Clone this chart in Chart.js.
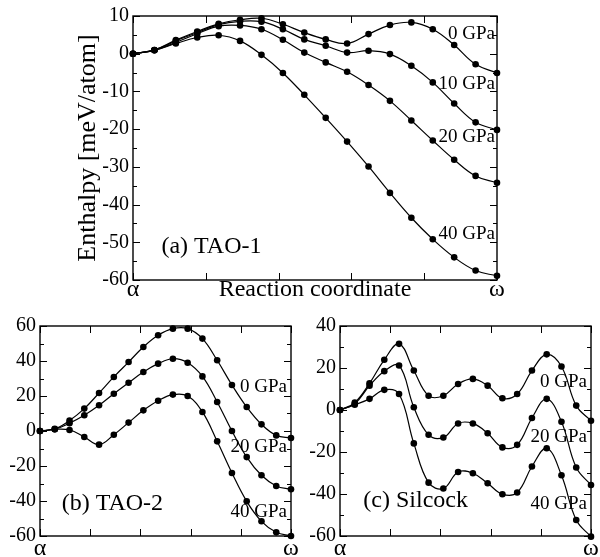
<!DOCTYPE html>
<html>
<head>
<meta charset="utf-8">
<script src="https://cdn.jsdelivr.net/npm/chart.js@4.4.1/dist/chart.umd.min.js"></script>
<style>
  html, body { margin: 0; padding: 0; background: #ffffff; }
  #page { position: relative; width: 600px; height: 557px; overflow: hidden; }
  canvas { position: absolute; }
</style>
</head>
<body>
<div id="page">
  <canvas id="tao1Chart" width="600" height="310" style="left:0;top:0"></canvas>
  <canvas id="tao2Chart" width="300" height="247" style="left:0;top:310px"></canvas>
  <canvas id="silcockChart" width="300" height="247" style="left:300px;top:310px"></canvas>
</div>
<script>
// Enthalpy along the reaction path (alpha -> omega) for three transition paths.
// Values, meV/atom.

const reactionSteps = [0, 1, 2, 3, 4, 5, 6, 7, 8, 9, 10, 11, 12, 13, 14, 15, 16, 17];

const tao1Pressures = ['0 GPa', '10 GPa', '20 GPa', '40 GPa'];
const tao1_0GPa = [0, 1.0, 3.6, 5.9, 7.9, 9.0, 9.4, 7.8, 5.6, 3.8, 2.7, 5.2, 7.6, 8.3, 6.5, 2.3, -2.8, -5.1];
const tao1_10GPa = [0, 1.0, 3.4, 5.6, 7.7, 8.6, 8.5, 6.5, 3.8, 2.1, 0.3, 0.8, -0.1, -3.2, -7.6, -13.2, -18.2, -20.2];
const tao1_20GPa = [0, 0.9, 3.0, 5.3, 7.3, 7.5, 6.5, 3.7, 0.3, -2.3, -4.8, -8.3, -12.5, -17.7, -23.0, -28.1, -32.4, -34.2];
const tao1_40GPa = [0, 0.9, 2.7, 4.3, 4.9, 3.4, -0.3, -5.1, -10.9, -17.0, -23.3, -29.9, -36.9, -43.5, -49.2, -54.0, -57.5, -58.9];

const pathPressures = ['0 GPa', '20 GPa', '40 GPa'];
const tao2_0GPa = [0, 1.2, 6.0, 12.8, 21.7, 30.9, 39.4, 48.0, 54.7, 58.5, 58.5, 52.8, 40.4, 26.3, 13.7, 3.8, -2.5, -4.0];
const tao2_20GPa = [0, 1.0, 4.5, 9.0, 14.7, 21.3, 27.6, 33.7, 38.5, 41.3, 39.0, 31.2, 16.6, 0.0, -14.9, -25.3, -31.4, -33.3];
const tao2_40GPa = [0, 1.0, 0.6, -3.4, -7.8, -2.1, 4.8, 11.8, 17.3, 20.8, 20.0, 10.9, -5.9, -24.0, -40.2, -51.6, -57.9, -60.0];

const silcock_0GPa = [0, 3.5, 12.7, 23.9, 31.5, 18.8, 6.8, 6.8, 12.4, 14.8, 11.6, 5.6, 7.6, 18.8, 26.5, 20.7, 2.1, -5.1];
const silcock_20GPa = [0, 3.0, 11.6, 18.5, 21.2, 1.3, -11.8, -13.1, -6.4, -6.4, -11.1, -17.8, -16.6, -3.8, 5.3, -5.6, -27.4, -35.7];
const silcock_40GPa = [0, 2.5, 5.3, 9.6, 7.6, -15.9, -34.6, -37.4, -29.5, -30.1, -34.9, -40.1, -39.3, -26.9, -18.2, -31.1, -52.4, -60.3];

const endLabels = { 0: 'α', 8.5: 'Reaction coordinate', 17: 'ω' };

const SERIF = '"Liberation Serif", "Times New Roman", serif';

// Draws the closed frame with inward tick marks, plus the text annotations.
const framePlugin = {
    id: 'frame',
    beforeDatasetsDraw(chart, args, opts) {
        const { ctx, chartArea: a, scales: { x, y } } = chart;
        ctx.save();
        ctx.strokeStyle = '#000';
        ctx.lineWidth = 1.4;
        ctx.strokeRect(a.left, a.top, a.right - a.left, a.bottom - a.top);
        ctx.lineWidth = 1;
        ctx.beginPath();
        for (let i = 0; i <= opts.xDivisions; i++) {
            const px = Math.round(x.getPixelForValue(x.min + (x.max - x.min) * i / opts.xDivisions)) + 0.5;
            ctx.moveTo(px, a.bottom);
            ctx.lineTo(px, a.bottom - opts.majorLen);
            ctx.moveTo(px, a.top);
            ctx.lineTo(px, a.top + opts.majorLen);
        }
        for (let v = y.min; v <= y.max + 1e-9; v += opts.yMinor) {
            const len = Math.abs(v % opts.yMajor) < 1e-9 ? opts.majorLen : opts.minorLen;
            const py = Math.round(y.getPixelForValue(v)) + 0.5;
            ctx.moveTo(a.left, py);
            ctx.lineTo(a.left + len, py);
            ctx.moveTo(a.right, py);
            ctx.lineTo(a.right - len, py);
        }
        ctx.stroke();
        ctx.restore();
    },
    afterDatasetsDraw(chart, args, opts) {
        const { ctx, scales: { x, y } } = chart;
        ctx.save();
        ctx.fillStyle = '#000';
        ctx.textBaseline = 'middle';
        opts.labels.forEach(label => {
            ctx.font = label.size + 'px ' + SERIF;
            ctx.textAlign = label.align;
            ctx.fillText(label.text, x.getPixelForValue(label.x) + label.dx, y.getPixelForValue(label.y));
        });
        ctx.restore();
    }
};

function buildDatasets(seriesList) {
    return seriesList.map(values => ({
        data: values.map((v, i) => ({ x: reactionSteps[i], y: v })),
        borderColor: '#000',
        borderWidth: 1.2,
        backgroundColor: '#000',
        pointBackgroundColor: '#000',
        pointBorderWidth: 0,
        pointRadius: 3.3,
        tension: 0.4,
        clip: false,
    }));
}

function renderPanel(canvasId, setup) {
    return new Chart(document.getElementById(canvasId), {
        type: 'line',
        data: { datasets: buildDatasets(setup.series) },
        plugins: [framePlugin],
        options: {
            responsive: false,
            animation: false,
            events: [],
            layout: { padding: setup.padding },
            plugins: {
                legend: { display: false },
                tooltip: { enabled: false },
                frame: {
                    xDivisions: 5,
                    yMajor: setup.yStep,
                    yMinor: setup.yStep / 2,
                    majorLen: 7,
                    minorLen: 4,
                    labels: setup.labels,
                },
            },
            scales: {
                x: {
                    type: 'linear',
                    min: 0,
                    max: 17,
                    grid: { display: false, drawTicks: false },
                    border: { display: false },
                    afterBuildTicks: scale => {
                        scale.ticks = setup.xTicks.map(v => ({ value: v }));
                    },
                    afterFit: scale => { scale.height = setup.xHeight; },
                    ticks: {
                        autoSkip: false,
                        maxRotation: 0,
                        padding: setup.xTickPadding,
                        color: '#000',
                        font: { family: SERIF, size: 24 },
                        callback: v => endLabels[v] || '',
                    },
                },
                y: {
                    min: setup.yMin,
                    max: setup.yMax,
                    grid: { display: false, drawTicks: false },
                    border: { display: false },
                    afterFit: scale => { scale.width = setup.yWidth; },
                    title: setup.yTitle,
                    ticks: {
                        stepSize: setup.yStep,
                        padding: 4,
                        color: '#000',
                        font: { family: SERIF, size: 20 },
                        callback: v => String(v),
                    },
                },
            },
        },
    });
}

renderPanel('tao1Chart', {
    series: [tao1_0GPa, tao1_10GPa, tao1_20GPa, tao1_40GPa],
    padding: { left: 0, top: 15, right: 103, bottom: 0 },
    yMin: -60, yMax: 10, yStep: 10,
    yWidth: 133, xHeight: 30, xTickPadding: -5,
    xTicks: [0, 8.5, 17],
    yTitle: {
        display: true,
        text: 'Enthalpy [meV/atom]',
        color: '#000',
        font: { family: SERIF, size: 26 },
        padding: { top: 73, bottom: 0 },
    },
    labels: [
        { text: tao1Pressures[0], x: 17, y: 5.2, dx: -2, align: 'right', size: 19 },
        { text: tao1Pressures[1], x: 17, y: -8.0, dx: -2, align: 'right', size: 19 },
        { text: tao1Pressures[2], x: 17, y: -22.0, dx: -2, align: 'right', size: 19 },
        { text: tao1Pressures[3], x: 17, y: -47.7, dx: -2, align: 'right', size: 19 },
        { text: '(a) TAO-1', x: 1.33, y: -51.2, dx: 0, align: 'left', size: 24 },
    ],
});

renderPanel('tao2Chart', {
    series: [tao2_0GPa, tao2_20GPa, tao2_40GPa],
    padding: { left: 0, top: 16, right: 9, bottom: 0 },
    yMin: -60, yMax: 60, yStep: 20,
    yWidth: 40, xHeight: 21, xTickPadding: -2,
    xTicks: [0, 17],
    yTitle: { display: false },
    labels: [
        { text: pathPressures[0], x: 17, y: 25.1, dx: -4, align: 'right', size: 19 },
        { text: pathPressures[1], x: 17, y: -9.1, dx: -4, align: 'right', size: 19 },
        { text: pathPressures[2], x: 17, y: -46.3, dx: -4, align: 'right', size: 19 },
        { text: '(b) TAO-2', x: 1.47, y: -41.5, dx: 0, align: 'left', size: 24 },
    ],
});

renderPanel('silcockChart', {
    series: [silcock_0GPa, silcock_20GPa, silcock_40GPa],
    padding: { left: 0, top: 16, right: 9, bottom: 0 },
    yMin: -60, yMax: 40, yStep: 20,
    yWidth: 40, xHeight: 21, xTickPadding: -2,
    xTicks: [0, 17],
    yTitle: { display: false },
    labels: [
        { text: pathPressures[0], x: 17, y: 13.2, dx: -4, align: 'right', size: 19 },
        { text: pathPressures[1], x: 17, y: -13.1, dx: -4, align: 'right', size: 19 },
        { text: pathPressures[2], x: 17, y: -44.6, dx: -4, align: 'right', size: 19 },
        { text: '(c) Silcock', x: 1.58, y: -43.3, dx: 0, align: 'left', size: 24 },
    ],
});
</script>
</body>
</html>
